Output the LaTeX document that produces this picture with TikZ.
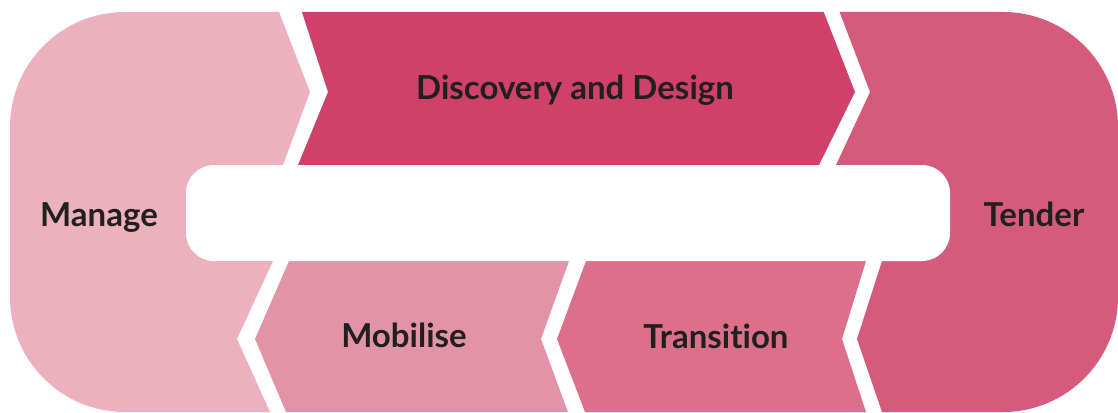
\documentclass[tikz,border=0pt]{standalone}
\usepackage{fontspec}
\setmainfont{Lato}[Ligatures={NoCommon,NoRare,NoContextual}]
\definecolor{cManage}{RGB}{236,176,191}
\definecolor{cDisc}{RGB}{207,65,106}
\definecolor{cTender}{RGB}{214,90,124}
\definecolor{cMob}{RGB}{227,147,168}
\definecolor{cTrans}{RGB}{220,111,139}
\definecolor{cText}{RGB}{34,31,32}
\tikzset{
  lbl/.style={text=cText,font=\fontsize{33}{39}\selectfont\bfseries,inner sep=0pt,anchor=base},
}
\begin{document}
\begin{tikzpicture}[x=1pt,y=-1pt]
\useasboundingbox (0,0) rectangle (1118,412);
\begin{scope}
\clip[rounded corners=115pt] (10,12) rectangle (1118,412);
% Manage
\fill[cManage] (0,0) -- (275,0) -- (279,12) -- (310,92) -- (283,165) -- (273,261) -- (237,339) -- (270,412) -- (0,420) -- cycle;
% Discovery and Design
\fill[cDisc] (298,0) -- (819,0) -- (855,92) -- (819,165) -- (298,165) -- (328,92) -- cycle;
% Tender
\fill[cTender] (835,0) -- (1130,0) -- (1130,420) -- (882,420) -- (882,412) -- (857,339) -- (882,261) -- (836,165) -- (870,92) -- cycle;
% Mobilise
\fill[cMob] (289,261) -- (569,261) -- (541,339) -- (568,412) -- (568,420) -- (286,420) -- (286,412) -- (255,339) -- cycle;
% Transition
\fill[cTrans] (586,261) -- (866,261) -- (842,339) -- (866,412) -- (866,420) -- (585,420) -- (585,412) -- (557,339) -- cycle;
\end{scope}
% central white bar
\fill[white,rounded corners=28pt] (186,165) rectangle (950,261);
% labels
\node[lbl] (disc) at (575,99) {Discovery and Design};
\node[lbl] (manage) at (99,226) {Manage};
\node[lbl] (tender) at (1034,226) {Tender};
\node[lbl] (mob) at (404,347) {Mobilise};
\node[lbl] (trans) at (716,348) {Transition};
\end{tikzpicture}
\end{document}
